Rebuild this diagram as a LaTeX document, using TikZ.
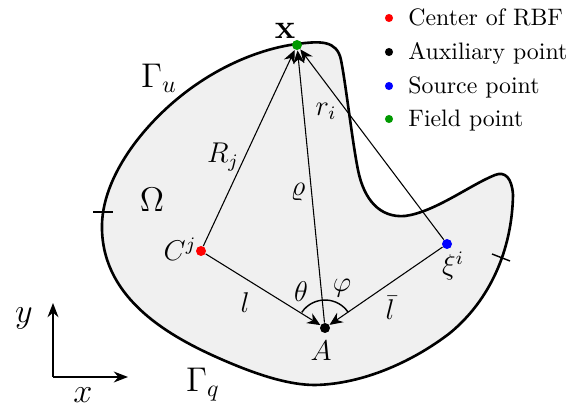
\documentclass[tikz,border=0pt]{standalone}
\usepackage{amsmath,amssymb}
\usetikzlibrary{arrows.meta}

\begin{document}
\begin{tikzpicture}[x=.42pt,y=-.42pt,
  dotnode/.style={circle,inner sep=0pt,minimum size=4.2pt},
  legdot/.style={circle,inner sep=0pt,minimum size=3.4pt},
  legtext/.style={anchor=base west,inner sep=0pt},
  link/.style={line width=.45pt,-{Stealth[length=5.5pt,width=4.8pt]}},
  axis/.style={line width=.6pt,-{Stealth[length=6pt,width=4.6pt]}},
  lbl/.style={font=\large,inner sep=1pt},
  biglabel/.style={font=\Large}]
\path[use as bounding box] (0,0) rectangle (579,412);
\draw[fill=black!6,line width=1.1pt] (297,44) .. controls (320,41) and (337,40) .. (341,60)
  .. controls (346,85) and (352,140) .. (358,170)
  .. controls (364,200) and (380,218) .. (405,216)
  .. controls (435,212) and (470,185) .. (495,175)
  .. controls (505,171) and (512,178) .. (513,195)
  .. controls (512,250) and (490,300) .. (450,333)
  .. controls (415,360) and (365,384) .. (315,385)
  .. controls (290,385) and (260,376) .. (223,360)
  .. controls (170,337) and (104,300) .. (102,230)
  .. controls (100,175) and (150,115) .. (200,82)
  .. controls (230,62) and (265,48) .. (297,44) -- cycle;
\draw[line width=.6pt] (93,212) -- (113,212);
\draw[line width=.6pt] (492,254) -- (510,261);

\node[dotnode,fill=green!60!black] (fx) at (297,45) {};
\node[dotnode,fill=red] (cj) at (201,251) {};
\node[dotnode,fill=blue] (xi) at (447,244) {};
\node[dotnode,fill=black] (aux) at (325,328) {};
\draw[link] (cj) -- (fx);
\draw[link] (aux) -- (fx);
\draw[link] (xi) -- (fx);
\draw[link] (cj) -- (aux);
\draw[link] (xi) -- (aux);
\draw[line width=.6pt] (aux) ++(-146:28) arc[start angle=-146,end angle=-34,radius=28];

\node[biglabel] (xlbl) at (285,31) {$\mathbf{x}$};
\node[lbl] (cjlbl) at (180,249) {$C^j$};
\node[lbl] (xilbl) at (453,266) {$\xi^i$};
\node[lbl] (albl) at (321,351) {$A$};
\node[lbl] (thlbl) at (301,292) {$\theta$};
\node[lbl] (phlbl) at (342,288) {$\varphi$};
\node[lbl] (llbl) at (245,303) {$l$};
\node[lbl] (lbarlbl) at (390,308) {$\bar{l}$};
\node[lbl] (rjlbl) at (223,157) {$R_j$};
\node[lbl] (rholbl) at (298,192) {$\varrho$};
\node[lbl] (rilbl) at (326,111) {$r_i$};
\node[biglabel] (gulbl) at (159,78) {$\Gamma_u$};
\node[biglabel] (omlbl) at (152,200) {$\Omega$};
\node[biglabel] (gqlbl) at (203,385) {$\Gamma_q$};

\coordinate (orig) at (53,377);
\coordinate (yend) at (53,303);
\coordinate (xend) at (128,377);
\draw[axis] (orig) -- (yend);
\draw[axis] (orig) -- (xend);
\node[biglabel] (ylbl) at (24,318) {$y$};
\node[biglabel] (xaxlbl) at (83,395) {$x$};

\node[legdot,fill=red] (ld1) at (389,18) {};
\node[legtext] (lt1) at (408,25.5) {Center of RBF};
\node[legdot,fill=black] (ld2) at (389,52) {};
\node[legtext] (lt2) at (408,59.5) {Auxiliary point};
\node[legdot,fill=blue] (ld3) at (389,86) {};
\node[legtext] (lt3) at (408,93.5) {Source point};
\node[legdot,fill=green!60!black] (ld4) at (389,119) {};
\node[legtext] (lt4) at (408,126.5) {Field point};
\end{tikzpicture}
\end{document}
